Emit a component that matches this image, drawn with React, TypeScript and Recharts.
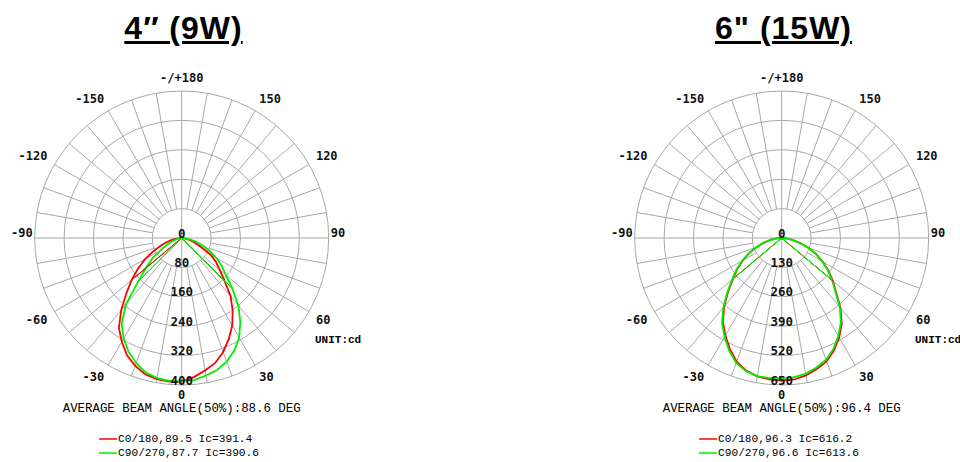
import { Legend, PolarAngleAxis, PolarGrid, PolarRadiusAxis, Radar, RadarChart } from "recharts";

// gamma angles in degrees, 0 = straight down
const gammaAngles = [
  -90, -85, -80, -75, -70, -65, -60, -55, -50, -45, -40, -35, -30, -25, -20, -15, -10, -5, 0,
  5, 10, 15, 20, 25, 30, 35, 40, 45, 50, 55, 60, 65, 70, 75, 80, 85, 90,
];

// 4" (9W), candela
const c0Values9W = [
  0, 10, 25, 42, 60, 85, 115, 145, 178, 213, 256, 298, 326, 352, 370, 384, 390, 392, 391,
  380, 366, 352, 330, 303, 275, 242, 207, 165, 135, 114, 91, 58, 38, 24, 13, 5, 0,
];
const c90Values9W = [
  0, 4, 10, 18, 30, 45, 66, 98, 128, 167, 236, 285, 316, 342, 362, 379, 387, 390, 390,
  388, 380, 372, 358, 338, 313, 278, 240, 195, 157, 133, 110, 85, 62, 42, 24, 10, 0,
];
const c0Chord9W: [number, number][] = [[-50, 178], [-45, 0], [40, 0], [45, 165]];
const c90Chord9W: [number, number][] = [[-45, 167], [-40, 0], [45, 195], [50, 0]];

// 6" (15W), candela
const c0Values15W = [
  0, 22, 50, 82, 118, 158, 199, 240, 281, 335, 396, 453, 498, 542, 582, 607, 621, 628, 630,
  628, 617, 600, 580, 548, 508, 463, 405, 340, 296, 253, 210, 168, 126, 82, 48, 20, 0,
];
const c90Values15W = [
  0, 22, 51, 84, 121, 161, 203, 245, 286, 340, 402, 460, 505, 550, 588, 610, 620, 622, 620,
  618, 610, 593, 573, 541, 501, 456, 400, 336, 291, 249, 206, 165, 124, 81, 47, 20, 0,
];
const c0Chord15W: [number, number][] = [[-50, 281], [-45, 0], [45, 0], [50, 296]];
const c90Chord15W: [number, number][] = [[-50, 286], [-45, 0], [45, 0], [50, 291]];

const angleTicks = [-150, -120, -90, -60, -30, 0, 30, 60, 90, 120, 150, 180];
const mainAxisTicks = [-90, 0, 90, 180];
const spokeTicks = Array.from({ length: 36 }, (_, i) => -170 + i * 10).filter((a) => a % 90 !== 0);
const radiusTicks9W = [0, 80, 160, 240, 320, 400];
const radiusTicks15W = [0, 130, 260, 390, 520, 650];

const W = 363;
const H = 462;
const CX = 181.7;
const CY = 238;
const R = 147;
const GRID = "#a8a8a8";
const MONO_SANS = "'DejaVu Sans Mono', monospace";
const MONO = "'Liberation Mono', 'Courier New', monospace";

function chordAt(chord: [number, number][], angle: number) {
  const hit = chord.find((p) => p[0] === angle);
  return hit ? hit[1] : null;
}

function buildRows(c0: number[], c90: number[], c0Chord: [number, number][], c90Chord: [number, number][]) {
  return gammaAngles.map((angle, i) => ({
    angle,
    c0: c0[i],
    c90: c90[i],
    c0Chord: chordAt(c0Chord, angle),
    c90Chord: chordAt(c90Chord, angle),
  }));
}

function AngleTick(props: any) {
  const { x, y, textAnchor, payload } = props;
  const s = Math.sin((payload.coordinate * Math.PI) / 180);
  let dx = 0;
  let dy = 0;
  if (s > 0.01) dy = -5;
  else if (s < -0.01) dy = s < -0.99 ? 1.5 : 4.5;
  else {
    dy = -5;
    dx = textAnchor === "end" ? 6 : -6;
  }
  const label = payload.value === 180 ? "-/+180" : String(payload.value);
  return (
    <text
      x={x + dx}
      y={y + dy}
      textAnchor={textAnchor}
      dominantBaseline="central"
      fontFamily={MONO_SANS}
      fontWeight="bold"
      fontSize={12}
      fill="#111"
    >
      {label}
    </text>
  );
}

function RadiusTick(props: any) {
  const { x, y, payload } = props;
  return (
    <text
      x={x}
      y={y - 5}
      textAnchor="middle"
      dominantBaseline="central"
      fontFamily={MONO_SANS}
      fontWeight="bold"
      fontSize={12.5}
      fill="#111"
    >
      {payload.value}
    </text>
  );
}

function LegendRows({ payload }: any) {
  const items = (payload ?? []).filter((entry: any) => entry.type !== "none");
  return (
    <div>
      {items.map((entry: any) => (
        <div key={entry.value} style={{ display: "flex", alignItems: "center", height: 14 }}>
          <svg width={20} height={12}>
            <line x1={1} y1={6} x2={19} y2={6} stroke={entry.color} strokeWidth={1.5} />
          </svg>
          <span style={{ fontFamily: MONO, fontSize: 11.2, lineHeight: "11px", color: "#000", whiteSpace: "pre" }}>
            {entry.value}
          </span>
        </div>
      ))}
    </div>
  );
}

function PhotometricPanel({
  left,
  title,
  rows,
  radiusTicks,
  beamText,
  c0Name,
  c90Name,
}: {
  left: number;
  title: string;
  rows: ReturnType<typeof buildRows>;
  radiusTicks: number[];
  beamText: string;
  c0Name: string;
  c90Name: string;
}) {
  const max = radiusTicks[radiusTicks.length - 1];
  const margin = { top: 0, right: 0, bottom: 0, left: 0 };
  return (
    <div style={{ position: "absolute", left, top: 0, width: W, height: H }}>
      <div
        style={{
          position: "absolute",
          left: 2,
          top: 12,
          width: W,
          textAlign: "center",
          fontFamily: "'Liberation Sans', Arial, sans-serif",
          fontWeight: "bold",
          fontSize: 32,
          lineHeight: "32px",
          letterSpacing: "1px",
          textDecoration: "underline",
          textDecorationThickness: "2.5px",
          color: "#000",
        }}
      >
        {title}
      </div>
      {/* rings and 10 degree spokes, starting at the first ring */}
      <div style={{ position: "absolute", left: 0, top: 0 }}>
        <RadarChart
          width={W}
          height={H}
          data={rows}
          cx={CX}
          cy={CY}
          innerRadius={R / 5}
          outerRadius={R}
          startAngle={-270}
          endAngle={90}
          margin={margin}
        >
          <PolarGrid gridType="circle" stroke={GRID} />
          <PolarAngleAxis
            dataKey="angle"
            type="number"
            scale="linear"
            domain={[-180, 180]}
            allowDataOverflow
            ticks={spokeTicks}
            tick={false}
            tickLine={false}
            axisLine={false}
          />
          <PolarRadiusAxis
            type="number"
            domain={[radiusTicks[1], max]}
            allowDataOverflow
            ticks={radiusTicks.slice(1)}
            tick={false}
            axisLine={false}
          />
        </RadarChart>
      </div>
      {/* main axes, curves, labels */}
      <div style={{ position: "absolute", left: 0, top: 0 }}>
        <RadarChart
          width={W}
          height={H}
          data={rows}
          cx={CX}
          cy={CY}
          innerRadius={0}
          outerRadius={R}
          startAngle={-270}
          endAngle={90}
          margin={margin}
        >
          <PolarGrid gridType="circle" angleAxisId="main" polarRadius={[]} stroke={GRID} />
          <PolarAngleAxis
            angleAxisId="main"
            dataKey="angle"
            type="number"
            scale="linear"
            domain={[-180, 180]}
            allowDataOverflow
            ticks={mainAxisTicks}
            tick={false}
            tickLine={false}
            axisLine={false}
          />
          <Radar dataKey="c0" name={c0Name} stroke="#ff0000" strokeWidth={1.8} fill="none" fillOpacity={0} isAnimationActive={false} />
          <Radar dataKey="c90" name={c90Name} stroke="#00ee00" strokeWidth={1.8} fill="none" fillOpacity={0} isAnimationActive={false} />
          <Radar dataKey="c0Chord" legendType="none" stroke="#ff0000" strokeWidth={1} fill="none" fillOpacity={0} isAnimationActive={false} />
          <Radar dataKey="c90Chord" legendType="none" stroke="#00ee00" strokeWidth={1} fill="none" fillOpacity={0} isAnimationActive={false} />
          <PolarAngleAxis
            dataKey="angle"
            type="number"
            scale="linear"
            domain={[-180, 180]}
            allowDataOverflow
            ticks={angleTicks}
            tick={<AngleTick />}
            tickLine={false}
            axisLine={false}
          />
          <PolarRadiusAxis
            angle={-90}
            type="number"
            domain={[0, max]}
            allowDataOverflow
            ticks={radiusTicks}
            tick={<RadiusTick />}
            axisLine={false}
          />
          <Legend
            layout="vertical"
            align="center"
            verticalAlign="middle"
            content={<LegendRows />}
            wrapperStyle={{ left: 98, top: 432, width: 260 }}
          />
          <text x={315} y={340} dominantBaseline="central" fontFamily={MONO} fontWeight="bold" fontSize={11} fill="#000">
            UNIT:cd
          </text>
          <text x={CX} y={408.5} textAnchor="middle" dominantBaseline="central" fontFamily={MONO} fontSize={12.4} fill="#000">
            {beamText}
          </text>
        </RadarChart>
      </div>
    </div>
  );
}

export default function App() {
  const rows9W = buildRows(c0Values9W, c90Values9W, c0Chord9W, c90Chord9W);
  const rows15W = buildRows(c0Values15W, c90Values15W, c0Chord15W, c90Chord15W);
  return (
    <div style={{ position: "absolute", left: 0, top: 0, width: 960, height: 462, background: "#fff", overflow: "hidden" }}>
      <PhotometricPanel
        left={0}
        title={"4\u2033 (9W)"}
        rows={rows9W}
        radiusTicks={radiusTicks9W}
        beamText="AVERAGE BEAM ANGLE(50%):88.6 DEG"
        c0Name="C0/180,89.5 Ic=391.4"
        c90Name="C90/270,87.7 Ic=390.6"
      />
      <PhotometricPanel
        left={600}
        title={'6" (15W)'}
        rows={rows15W}
        radiusTicks={radiusTicks15W}
        beamText="AVERAGE BEAM ANGLE(50%):96.4 DEG"
        c0Name="C0/180,96.3 Ic=616.2"
        c90Name="C90/270,96.6 Ic=613.6"
      />
    </div>
  );
}
